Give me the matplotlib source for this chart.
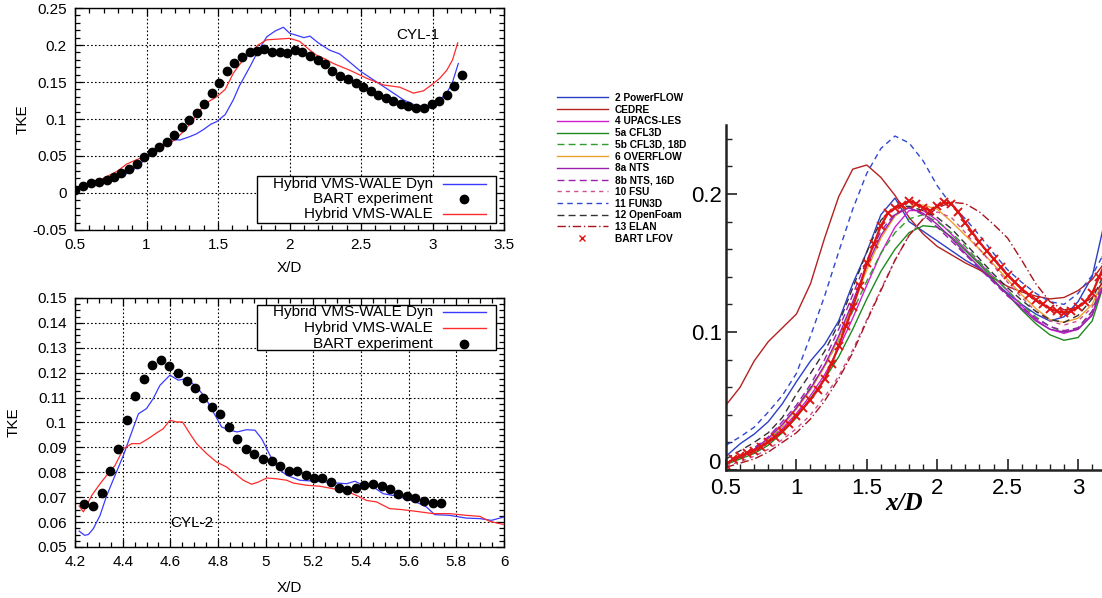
"""
plot.py
TKE profiles behind the tandem cylinders: two gnuplot-style panels on the left
(CYL-1 and CYL-2) and the BANC comparison panel on the right.
Output: out.png
"""

import matplotlib.pyplot as plt
from matplotlib.lines import Line2D
from matplotlib.patches import Rectangle
from matplotlib.ticker import FuncFormatter, MultipleLocator


# ---------------------------------------------------------------------------
# Data — CYL-1 (top left)
# ---------------------------------------------------------------------------

CYL1_EXP_X = [0.50, 0.558, 0.61, 0.665, 0.72, 0.773, 0.824, 0.88, 0.93, 0.985,
              1.036, 1.09, 1.141, 1.19, 1.246, 1.30, 1.35, 1.404, 1.456, 1.509,
              1.56, 1.614, 1.668, 1.72, 1.773, 1.824, 1.875, 1.934, 1.985, 2.038,
              2.09, 2.143, 2.197, 2.25, 2.30, 2.353, 2.41, 2.465, 2.516, 2.567,
              2.62, 2.675, 2.726, 2.78, 2.83, 2.885, 2.94, 2.994, 3.048, 3.10,
              3.15, 3.204]
CYL1_EXP_Y = [0.004, 0.010, 0.013, 0.015, 0.018, 0.022, 0.027, 0.032, 0.039, 0.048,
              0.056, 0.062, 0.069, 0.079, 0.089, 0.099, 0.108, 0.120, 0.135, 0.149,
              0.165, 0.176, 0.184, 0.191, 0.192, 0.195, 0.191, 0.190, 0.189, 0.193,
              0.191, 0.185, 0.180, 0.175, 0.165, 0.158, 0.154, 0.148, 0.143, 0.138,
              0.133, 0.128, 0.124, 0.120, 0.118, 0.115, 0.115, 0.120, 0.124, 0.132,
              0.144, 0.159]

CYL1_DYN_X = [0.50, 0.60, 0.70, 0.80, 0.90, 1.00, 1.10, 1.15, 1.20, 1.234, 1.30,
              1.35, 1.40, 1.45, 1.49, 1.55, 1.607, 1.65, 1.724, 1.78, 1.84, 1.90,
              1.957, 2.00, 2.05, 2.10, 2.143, 2.20, 2.28, 2.35, 2.42, 2.50, 2.586,
              2.68, 2.75, 2.796, 2.85, 2.89, 2.95, 3.006, 3.05, 3.10, 3.14, 3.18]
CYL1_DYN_Y = [0.003, 0.011, 0.015, 0.020, 0.030, 0.047, 0.062, 0.071, 0.072, 0.0716,
              0.076, 0.080, 0.086, 0.093, 0.0964, 0.106, 0.126, 0.145, 0.171, 0.192,
              0.211, 0.219, 0.224, 0.216, 0.213, 0.210, 0.212, 0.203, 0.193, 0.188,
              0.177, 0.164, 0.153, 0.141, 0.132, 0.126, 0.121, 0.118, 0.117, 0.121,
              0.126, 0.135, 0.150, 0.175]

CYL1_WALE_X = [0.50, 0.60, 0.70, 0.80, 0.86, 0.93, 1.00, 1.07, 1.14, 1.20, 1.257,
               1.32, 1.374, 1.43, 1.49, 1.55, 1.607, 1.66, 1.724, 1.78, 1.84, 1.92,
               2.00, 2.07, 2.13, 2.19, 2.25, 2.306, 2.42, 2.54, 2.656, 2.77, 2.866,
               2.936, 3.006, 3.05, 3.10, 3.14, 3.176]
CYL1_WALE_Y = [0.002, 0.014, 0.020, 0.030, 0.039, 0.045, 0.050, 0.058, 0.065, 0.072,
               0.083, 0.097, 0.112, 0.123, 0.130, 0.140, 0.162, 0.176, 0.189, 0.200,
               0.207, 0.208, 0.209, 0.205, 0.195, 0.186, 0.181, 0.175, 0.166, 0.155,
               0.146, 0.143, 0.135, 0.138, 0.148, 0.155, 0.166, 0.180, 0.203]

# ---------------------------------------------------------------------------
# Data — CYL-2 (bottom left)
# ---------------------------------------------------------------------------

CYL2_EXP_X = [4.239, 4.277, 4.312, 4.347, 4.382, 4.417, 4.452, 4.489, 4.524, 4.56,
              4.595, 4.632, 4.668, 4.703, 4.738, 4.774, 4.809, 4.844, 4.881, 4.917,
              4.952, 4.988, 5.025, 5.06, 5.096, 5.132, 5.167, 5.202, 5.237, 5.273,
              5.308, 5.343, 5.38, 5.414, 5.45, 5.486, 5.52, 5.557, 5.593, 5.628,
              5.663, 5.70, 5.737]
CYL2_EXP_Y = [0.0671, 0.0665, 0.0718, 0.0804, 0.0895, 0.1011, 0.1106, 0.1173, 0.1230,
              0.1250, 0.1226, 0.1200, 0.1167, 0.1140, 0.1100, 0.1061, 0.1033, 0.0980,
              0.0935, 0.0895, 0.0875, 0.0855, 0.0845, 0.0824, 0.0805, 0.0804, 0.0790,
              0.0778, 0.0776, 0.0761, 0.0738, 0.0730, 0.0738, 0.0748, 0.0752, 0.0745,
              0.0732, 0.0714, 0.0706, 0.0698, 0.0683, 0.0678, 0.0678]

CYL2_DYN_X = [4.217, 4.24, 4.256, 4.277, 4.305, 4.333, 4.368, 4.403, 4.438, 4.466,
              4.50, 4.528, 4.556, 4.598, 4.633, 4.668, 4.71, 4.745, 4.78, 4.815,
              4.85, 4.88, 4.92, 4.955, 4.983, 5.018, 5.053, 5.088, 5.143, 5.213,
              5.283, 5.339, 5.374, 5.409, 5.451, 5.493, 5.535, 5.59, 5.646, 5.674,
              5.709, 5.772, 5.842, 5.898, 5.947, 5.982, 6.0]
CYL2_DYN_Y = [0.0564, 0.0547, 0.0550, 0.0574, 0.0627, 0.0707, 0.0788, 0.0868, 0.0962,
              0.1035, 0.1056, 0.1096, 0.1149, 0.1190, 0.1170, 0.1176, 0.1143, 0.1102,
              0.1042, 0.0982, 0.0969, 0.0962, 0.0971, 0.0969, 0.0935, 0.0868, 0.0815,
              0.0788, 0.0768, 0.0764, 0.0758, 0.0754, 0.0764, 0.0748, 0.0741, 0.0714,
              0.0707, 0.0694, 0.0674, 0.0661, 0.0630, 0.0627, 0.0616, 0.0614, 0.0607,
              0.0616, 0.0620]

CYL2_WALE_X = [4.217, 4.235, 4.27, 4.305, 4.333, 4.368, 4.403, 4.438, 4.472, 4.507,
               4.542, 4.57, 4.598, 4.626, 4.651, 4.682, 4.71, 4.752, 4.794, 4.836,
               4.871, 4.906, 4.941, 4.969, 5.004, 5.045, 5.088, 5.115, 5.171, 5.227,
               5.283, 5.339, 5.381, 5.423, 5.465, 5.52, 5.563, 5.632, 5.702, 5.772,
               5.842, 5.898, 5.94, 6.0]
CYL2_WALE_Y = [0.0665, 0.0641, 0.0707, 0.0754, 0.0788, 0.0828, 0.0895, 0.0915, 0.0915,
               0.0935, 0.0958, 0.0975, 0.1009, 0.1002, 0.1002, 0.0955, 0.0915, 0.0875,
               0.0841, 0.0821, 0.0795, 0.0768, 0.0752, 0.0761, 0.0777, 0.0774, 0.0768,
               0.0757, 0.0748, 0.0744, 0.0734, 0.0724, 0.0707, 0.0687, 0.0681, 0.0654,
               0.0651, 0.0643, 0.0634, 0.0634, 0.0627, 0.0623, 0.0603, 0.0590]

# ---------------------------------------------------------------------------
# Data — BANC comparison (right)
# ---------------------------------------------------------------------------

XR = [0.5, 0.6, 0.7, 0.8, 0.9, 1.0, 1.1, 1.2, 1.3, 1.4, 1.5, 1.6, 1.7, 1.8,
      1.9, 2.0, 2.1, 2.2, 2.3, 2.4, 2.5, 2.6, 2.7, 2.8, 2.9, 3.0, 3.1, 3.2]

POWERFLOW = [0.010, 0.019, 0.026, 0.035, 0.048, 0.064, 0.079, 0.091, 0.108, 0.135,
             0.158, 0.185, 0.197, 0.180, 0.173, 0.166, 0.159, 0.152, 0.146, 0.137,
             0.128, 0.120, 0.113, 0.108, 0.111, 0.122, 0.140, 0.185]
CEDRE = [0.047, 0.060, 0.079, 0.093, 0.103, 0.113, 0.135, 0.168, 0.198, 0.218,
         0.221, 0.212, 0.199, 0.183, 0.171, 0.162, 0.156, 0.150, 0.145, 0.139,
         0.133, 0.129, 0.126, 0.124, 0.125, 0.130, 0.138, 0.152]
UPACS = [0.005, 0.009, 0.014, 0.021, 0.030, 0.041, 0.054, 0.069, 0.088, 0.110,
         0.134, 0.157, 0.176, 0.188, 0.188, 0.181, 0.171, 0.160, 0.150, 0.140,
         0.130, 0.119, 0.109, 0.102, 0.099, 0.102, 0.113, 0.140]
CFL3D = [0.004, 0.008, 0.012, 0.018, 0.027, 0.038, 0.052, 0.066, 0.082, 0.102,
         0.124, 0.144, 0.160, 0.172, 0.177, 0.176, 0.169, 0.159, 0.149, 0.138,
         0.127, 0.116, 0.106, 0.098, 0.094, 0.096, 0.108, 0.140]
CFL3D_18D = [0.004, 0.009, 0.014, 0.021, 0.032, 0.045, 0.060, 0.075, 0.094, 0.115,
             0.137, 0.157, 0.172, 0.182, 0.185, 0.180, 0.172, 0.162, 0.151, 0.140,
             0.130, 0.120, 0.111, 0.104, 0.100, 0.103, 0.115, 0.145]
OVERFLOW = [0.005, 0.010, 0.015, 0.022, 0.032, 0.044, 0.058, 0.075, 0.095, 0.120,
            0.145, 0.168, 0.184, 0.191, 0.192, 0.189, 0.180, 0.170, 0.160, 0.149,
            0.138, 0.127, 0.117, 0.109, 0.107, 0.110, 0.120, 0.142]
NTS = [0.005, 0.010, 0.015, 0.023, 0.033, 0.045, 0.059, 0.076, 0.097, 0.122,
       0.148, 0.170, 0.185, 0.190, 0.186, 0.178, 0.168, 0.157, 0.147, 0.137,
       0.127, 0.117, 0.108, 0.102, 0.100, 0.102, 0.112, 0.140]
NTS_16D = [0.005, 0.010, 0.016, 0.024, 0.035, 0.047, 0.062, 0.080, 0.102, 0.127,
           0.152, 0.173, 0.186, 0.190, 0.185, 0.176, 0.166, 0.156, 0.146, 0.136,
           0.126, 0.118, 0.110, 0.104, 0.101, 0.103, 0.115, 0.142]
FSU = [0.003, 0.006, 0.010, 0.015, 0.022, 0.030, 0.040, 0.053, 0.068, 0.087,
       0.109, 0.131, 0.152, 0.170, 0.182, 0.187, 0.183, 0.172, 0.160, 0.148,
       0.136, 0.125, 0.115, 0.108, 0.105, 0.108, 0.118, 0.140]
FUN3D = [0.018, 0.024, 0.031, 0.042, 0.054, 0.070, 0.097, 0.126, 0.158, 0.189,
         0.215, 0.233, 0.242, 0.237, 0.224, 0.206, 0.192, 0.182, 0.170, 0.157,
         0.145, 0.136, 0.128, 0.122, 0.120, 0.128, 0.141, 0.160]
OPENFOAM = [0.008, 0.014, 0.020, 0.027, 0.038, 0.055, 0.070, 0.086, 0.106, 0.132,
            0.158, 0.181, 0.191, 0.191, 0.188, 0.183, 0.175, 0.164, 0.153, 0.142,
            0.132, 0.123, 0.115, 0.109, 0.107, 0.112, 0.124, 0.145]
ELAN = [0.002, 0.005, 0.008, 0.013, 0.020, 0.027, 0.037, 0.050, 0.066, 0.085,
        0.108, 0.130, 0.152, 0.170, 0.182, 0.190, 0.194, 0.193, 0.187, 0.178,
        0.168, 0.152, 0.135, 0.122, 0.116, 0.118, 0.125, 0.140]

BART_X = [0.50, 0.55, 0.60, 0.65, 0.70, 0.75, 0.80, 0.85, 0.90, 0.95, 1.00, 1.05,
          1.10, 1.15, 1.20, 1.25, 1.30, 1.35, 1.40, 1.45, 1.50, 1.55, 1.60, 1.65,
          1.70, 1.75, 1.80, 1.85, 1.90, 1.95, 2.00, 2.05, 2.10, 2.15, 2.20, 2.25,
          2.30, 2.35, 2.40, 2.45, 2.50, 2.55, 2.60, 2.65, 2.70, 2.75, 2.80, 2.85,
          2.90, 2.95, 3.00, 3.05, 3.10, 3.15, 3.20]
BART_Y = [0.004, 0.008, 0.010, 0.012, 0.014, 0.017, 0.020, 0.024, 0.028, 0.033,
          0.039, 0.045, 0.051, 0.058, 0.066, 0.077, 0.090, 0.104, 0.118, 0.133,
          0.150, 0.164, 0.177, 0.186, 0.190, 0.192, 0.195, 0.193, 0.190, 0.188,
          0.191, 0.194, 0.193, 0.187, 0.179, 0.172, 0.165, 0.159, 0.153, 0.147,
          0.141, 0.136, 0.131, 0.127, 0.123, 0.120, 0.117, 0.115, 0.114, 0.115,
          0.118, 0.122, 0.128, 0.140, 0.152]

RIGHT_SERIES = [
    # label, values, colour, linestyle
    ("2 PowerFLOW",   POWERFLOW, "#2b3fc4", "-"),
    ("CEDRE",         CEDRE,     "#b52020", "-"),
    ("4 UPACS-LES",   UPACS,     "#d01fd0", "-"),
    ("5a CFL3D",      CFL3D,     "#1e8a1e", "-"),
    ("5b CFL3D, 18D", CFL3D_18D, "#2e9e2e", (0, (5, 3))),
    ("6 OVERFLOW",    OVERFLOW,  "#eda02c", "-"),
    ("8a NTS",        NTS,       "#9a1fae", "-"),
    ("8b NTS, 16D",   NTS_16D,   "#9a1fae", (0, (5, 3))),
    ("10 FSU",        FSU,       "#cc4f92", (0, (3, 3))),
    ("11 FUN3D",      FUN3D,     "#3048d0", (0, (4, 3))),
    ("12 OpenFoam",   OPENFOAM,  "#333333", (0, (5, 3))),
    ("13 ELAN",       ELAN,      "#a8141c", (0, (6, 2, 1, 2))),
]

# ---------------------------------------------------------------------------
# Style
# ---------------------------------------------------------------------------

BLUE = "#3a3aff"
RED = "#ff2a2a"
FONT = ["Liberation Sans", "DejaVu Sans"]
FS = 11

plt.rcParams.update({
    "font.family": FONT,
    "font.size": FS,
    "axes.linewidth": 1.0,
})

gfmt = FuncFormatter(lambda v, _: f"{v:g}")


def gnuplot_axes(ax, xmaj, xmin, ymaj, ymin):
    ax.xaxis.set_major_locator(MultipleLocator(xmaj))
    ax.xaxis.set_minor_locator(MultipleLocator(xmin))
    ax.yaxis.set_major_locator(MultipleLocator(ymaj))
    ax.yaxis.set_minor_locator(MultipleLocator(ymin))
    ax.xaxis.set_major_formatter(gfmt)
    ax.yaxis.set_major_formatter(gfmt)
    ax.tick_params(which="both", direction="in", top=True, right=True,
                   labelsize=FS, colors="black")
    ax.tick_params(which="major", length=6, width=0.9)
    ax.tick_params(which="minor", length=3.5, width=0.9)
    ax.tick_params(axis="x", pad=6)
    ax.tick_params(axis="y", pad=6)
    ax.grid(True, which="major", color="black", linestyle=(0, (1.5, 2)), linewidth=0.8)
    ax.set_axisbelow(True)


def gnuplot_key(ax, box, rows):
    """Right-aligned gnuplot key. rows: (label, kind, colour, y)."""
    x0, y0, x1, y1 = box
    ax.add_patch(Rectangle((x0, y0), x1 - x0, y1 - y0, transform=ax.transAxes,
                           facecolor="white", edgecolor="black", lw=1.0, zorder=5))
    for label, kind, color, y in rows:
        ax.text(0.834, y, label, transform=ax.transAxes, ha="right", va="center",
                fontsize=FS, zorder=6)
        if kind == "line":
            ax.add_line(Line2D([0.858, 0.958], [y, y], transform=ax.transAxes,
                               color=color, lw=1.0, zorder=6))
        else:
            ax.add_line(Line2D([0.907], [y], transform=ax.transAxes, ls="none",
                               marker="o", ms=6, color="black", zorder=6))


def plot_cyl1(fig):
    ax = fig.add_axes([0.0681, 0.6154, 0.3893, 0.3712])
    ax.plot(CYL1_DYN_X, CYL1_DYN_Y, color=BLUE, lw=0.9, zorder=3)
    ax.plot(CYL1_EXP_X, CYL1_EXP_Y, ls="none", marker="o", ms=6, color="black", zorder=4)
    ax.plot(CYL1_WALE_X, CYL1_WALE_Y, color=RED, lw=0.9, zorder=3)
    ax.set_xlim(0.5, 3.5)
    ax.set_ylim(-0.05, 0.25)
    gnuplot_axes(ax, 0.5, 0.1, 0.05, 0.01)
    ax.set_xlabel("X/D", fontsize=FS)
    ax.set_ylabel("TKE", fontsize=FS)
    ax.xaxis.set_label_coords(0.5, -0.14)
    ax.yaxis.set_label_coords(-0.107, 0.5)
    ax.text(2.9, 0.214, "CYL-1", ha="center", va="center", fontsize=FS)
    gnuplot_key(ax, (0.424, 0.032, 0.981, 0.243), [
        ("Hybrid VMS-WALE Dyn", "line", BLUE, 0.207),
        ("BART experiment", "dot", "black", 0.140),
        ("Hybrid VMS-WALE", "line", RED, 0.072),
    ])


def plot_cyl2(fig):
    ax = fig.add_axes([0.0681, 0.0853, 0.3893, 0.4164])
    ax.plot(CYL2_DYN_X, CYL2_DYN_Y, color=BLUE, lw=0.9, zorder=3)
    ax.plot(CYL2_WALE_X, CYL2_WALE_Y, color=RED, lw=0.9, zorder=3)
    ax.plot(CYL2_EXP_X, CYL2_EXP_Y, ls="none", marker="o", ms=6, color="black", zorder=4)
    ax.set_xlim(4.2, 6.0)
    ax.set_ylim(0.05, 0.15)
    gnuplot_axes(ax, 0.2, 0.05, 0.01, 0.0025)
    ax.set_xlabel("X/D", fontsize=FS)
    ax.set_ylabel("TKE", fontsize=FS)
    ax.xaxis.set_label_coords(0.5, -0.135)
    ax.yaxis.set_label_coords(-0.126, 0.5)
    ax.text(4.69, 0.0598, "CYL-2", ha="center", va="center", fontsize=FS)
    gnuplot_key(ax, (0.424, 0.791, 0.981, 0.972), [
        ("Hybrid VMS-WALE Dyn", "line", BLUE, 0.944),
        ("Hybrid VMS-WALE", "line", RED, 0.880),
        ("BART experiment", "dot", "black", 0.815),
    ])


def plot_banc(fig):
    ax = fig.add_axes([0.6588, 0.214, 0.3412, 0.577])
    handles = []
    for label, vals, color, ls in RIGHT_SERIES:
        (h,) = ax.plot(XR, vals, color=color, ls=ls, lw=1.0, label=label)
        handles.append(h)
    ax.plot(BART_X, BART_Y, color="#dd1515", lw=1.6, marker="x", ms=6, mew=1.4)
    handles.append(Line2D([], [], ls="none", marker="x", ms=4, mew=1.0,
                          color="#dd1515", label="BART LFOV"))

    ax.set_xlim(0.5, 3.17)
    ax.set_ylim(0, 0.25)
    for side in ("top", "right"):
        ax.spines[side].set_visible(False)
    for side in ("left", "bottom"):
        ax.spines[side].set_linewidth(1.8)
        ax.spines[side].set_color("#222222")
    ax.xaxis.set_major_locator(MultipleLocator(0.5))
    ax.xaxis.set_minor_locator(MultipleLocator(0.1))
    ax.yaxis.set_major_locator(MultipleLocator(0.1))
    ax.yaxis.set_minor_locator(MultipleLocator(0.02))
    ax.xaxis.set_major_formatter(gfmt)
    # the "0" label is drawn separately, nudged up so it clears the "0.5"
    ax.yaxis.set_major_formatter(FuncFormatter(lambda v, _: "" if abs(v) < 1e-9 else f"{v:g}"))
    ax.annotate("0", xy=(0, 0), xycoords=("axes fraction", "data"),
                xytext=(-4, 5), textcoords="offset points",
                ha="right", va="center", fontsize=16)
    ax.tick_params(which="both", direction="in", labelsize=16, color="#222222")
    ax.tick_params(which="major", length=8, width=1.2)
    ax.tick_params(which="minor", length=4.5, width=1.0)
    ax.tick_params(axis="x", pad=6)
    ax.tick_params(axis="y", pad=3)
    ax.set_xlabel("x/D", family=["Liberation Serif", "DejaVu Serif"],
                  style="italic", weight="bold", fontsize=18)
    ax.xaxis.set_label_coords(0.473, -0.065)

    fig.legend(handles=handles, loc="upper left", bbox_to_anchor=(557 / 1102, 1 - 93 / 598),
               frameon=False, prop={"family": FONT, "weight": "bold", "size": 7.3},
               handlelength=5.0, handletextpad=0.7, labelspacing=0.17,
               borderpad=0, borderaxespad=0, numpoints=1)


def main():
    fig = plt.figure(figsize=(11.02, 5.98), dpi=100)
    plot_cyl1(fig)
    plot_cyl2(fig)
    plot_banc(fig)
    fig.savefig("out.png", dpi=100)
    plt.close(fig)


if __name__ == "__main__":
    main()
